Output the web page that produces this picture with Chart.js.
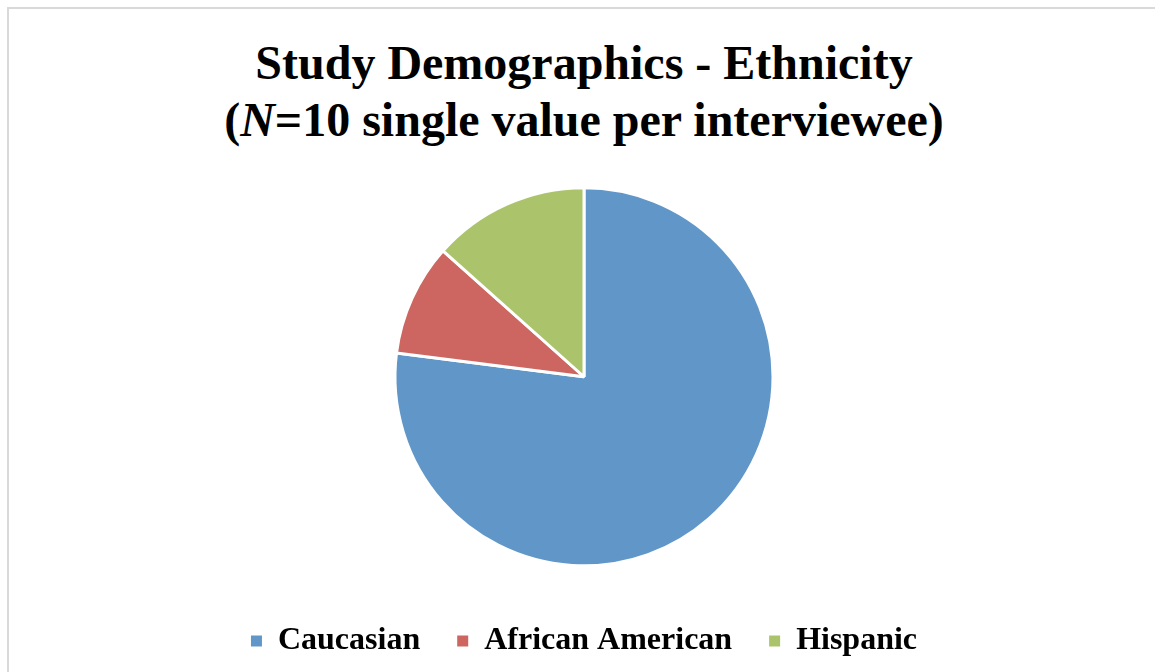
<!DOCTYPE html>
<html>
<head>
<meta charset="UTF-8">
<title>Study Demographics - Ethnicity</title>
<script src="https://cdn.jsdelivr.net/npm/chart.js"></script>
<style>
html, body { margin: 0; padding: 0; background: #fff; overflow: hidden; width: 1155px; height: 672px; }
#frame { position: absolute; left: 7px; top: 7px; width: 1200px; height: 720px; border-left: 2px solid #d9d9d9; border-top: 2px solid #d9d9d9; }
#title { position: absolute; left: 7px; top: 34px; width: 1154px; text-align: center;
  font-family: "Liberation Serif", "Times New Roman", serif; font-weight: bold; font-size: 48px; line-height: 57px; color: #000; }
#wrap { position: absolute; left: 7px; top: 0; width: 1154px; height: 667px; }
</style>
<script>
// 값은 그림에서 읽은 비율(%)
const labels = ['Caucasian', 'African American', 'Hispanic'];
const values = [77, 9.6, 13.4];
const colors = ['#6196c9', '#cd6660', '#abc46c'];
</script>
</head>
<body>
<div id="frame"></div>
<div id="title">Study Demographics - Ethnicity<br>(<i>N</i>=10 single value per interviewee)</div>
<div id="wrap"><canvas id="myChart" width="1154" height="667"></canvas></div>
<script>
const ctx = document.getElementById('myChart').getContext('2d');
const myChart = new Chart(ctx, {
  type: 'pie',
  data: {
    labels: labels,
    datasets: [{
      data: values,
      backgroundColor: colors,
      borderColor: '#ffffff',
      borderWidth: 3,
      radius: 189,
      hoverOffset: 0
    }]
  },
  options: {
    responsive: false,
    animation: false,
    layout: { padding: { top: 165.5 } },
    plugins: {
      title: { display: false },
      tooltip: { enabled: false },
      legend: {
        position: 'bottom',
        labels: {
          boxWidth: 11,
          boxHeight: 11,
          padding: 37,
          color: '#000',
          font: { family: '"Liberation Serif", "Times New Roman", serif', size: 32, weight: 'bold' },
          // 범례 상자에 흰 테두리 빼기
          generateLabels: function(chart) {
            const items = Chart.overrides.pie.plugins.legend.labels.generateLabels(chart);
            items.forEach(function(item){ item.lineWidth = 0; });
            return items;
          }
        }
      }
    }
  }
}); // chartjs
</script>
</body>
</html>
